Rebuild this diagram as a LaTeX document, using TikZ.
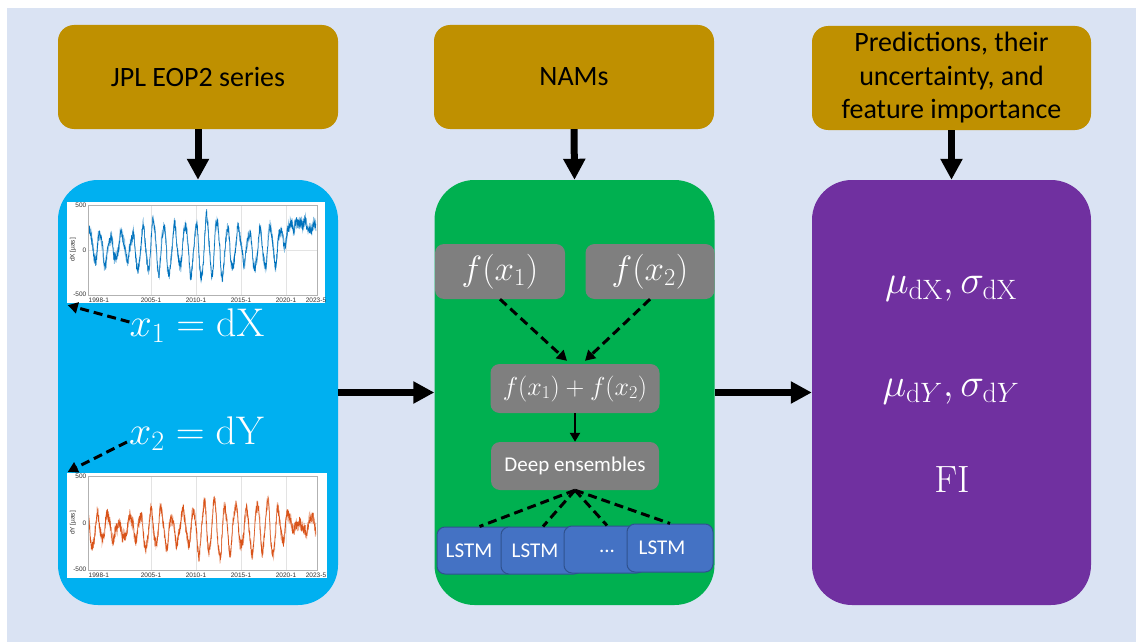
\RequirePackage{fix-cm}
\documentclass[tikz,border=0pt]{standalone}
\usepackage[no-math]{fontspec}
\setmainfont{Carlito}
\newfontfamily\plotfont{Liberation Sans}
\usetikzlibrary{arrows.meta,calc}
\definecolor{bgblue}{HTML}{DAE3F3}
\definecolor{gold}{HTML}{BF9000}
\definecolor{skyb}{HTML}{00B0F0}
\definecolor{grn}{HTML}{00B050}
\definecolor{purp}{HTML}{7030A0}
\definecolor{gry}{HTML}{7F7F7F}
\definecolor{lstmb}{HTML}{4472C4}
\definecolor{lstmd}{HTML}{2F528F}
\definecolor{dxcol}{HTML}{0072BD}
\definecolor{dycol}{HTML}{D95319}
\pgfmathsetseed{7}
\tikzset{
  topbox/.style={fill=gold, rounded corners=16pt, inner sep=0pt, align=center,
     font=\fontsize{28}{33.5}\selectfont, text=black},
  bigbox/.style={rounded corners=40pt, inner sep=0pt, minimum width=280pt, minimum height=425pt},
  bigarrow/.style={line width=7pt, -{Triangle[length=21pt,width=21pt]}},
  dasharrow/.style={line width=3pt, dash pattern=on 9pt off 5pt, -{Triangle[length=10pt,width=11pt]}},
  dashline/.style={line width=3pt, dash pattern=on 9pt off 5pt},
  graybox/.style={fill=gry, rounded corners=9pt, inner sep=0pt, text=white},
  lstmbox/.style={fill=lstmb, draw=lstmd, line width=1pt, rounded corners=8pt, inner sep=0pt},
  lstmtxt/.style={text=white, inner sep=0pt, font=\fontsize{21}{23}\selectfont},
  chartbg/.style={fill=white, inner sep=0pt},
  ticklab/.style={font=\plotfont\fontsize{6.5}{7}\selectfont, inner sep=0.5pt, text=black!80},
  gridl/.style={gray!22, line width=0.5pt},
  axframe/.style={gray!60, line width=0.5pt},
  bigmath/.style={text=white, inner sep=0pt, font=\fontsize{40}{42}\selectfont},
  purmath/.style={text=white, inner sep=0pt, font=\fontsize{40}{42}\selectfont}
}
\begin{document}
\begin{tikzpicture}[x=1pt,y=-1pt]
\useasboundingbox (0,0) rectangle (1136,642);
\fill[bgblue] (7,8) rectangle (1136,642);

% top boxes
\node[topbox, minimum width=280pt, minimum height=104pt] (jpl) at (198,77) {JPL EOP2 series};
\node[topbox, minimum width=280pt, minimum height=104pt] (nams) at (574,77) {NAMs};
\node[topbox, minimum width=279pt, minimum height=104pt] (pred) at (951.5,78) {Predictions, their\\uncertainty, and\\feature importance};

% big boxes
\node[bigbox, fill=skyb] (blue) at (198,392.5) {};
\node[bigbox, fill=grn] (green) at (574.5,392.5) {};
\node[bigbox, fill=purp, minimum width=279pt] (purple) at (951.5,392.5) {};

% arrows
\draw[bigarrow] (jpl.south) -- (blue.north);
\draw[bigarrow] (nams.south) -- (green.north);
\draw[bigarrow] (pred.south) -- (purple.north);
\draw[bigarrow] (blue.east) -- (green.west);
\draw[bigarrow] (green.east) -- (purple.west);

% chart 1 (dX)
\node[chartbg, minimum width=258pt, minimum height=101pt] (ch1) at (196,252.5) {};
\foreach \xx in {151,196,241,286} \draw[gridl] (\xx,205) -- (\xx,295);
\draw[gridl] (88,250) -- (317,250);
\begin{scope}
\clip (88,205) rectangle (317,295);
\draw[dxcol!45, line width=0.8pt] plot[domain=0:25.33, samples=900, variable=\t]
  ({88+9*\t}, {250-0.09*( 20 + 250*min(max((\t-20.9)/1.5,0),1)
   + (1-0.7*min(max((\t-20.9)/1.5,0),1))*(100+190*exp(-((\t-12)/8)*((\t-12)/8)))*sin(360*\t/1.18+30)
   + 45*sin(360*\t) + 35*sin(360*\t/3.3+40) + 25*sin(360*frac(2*\t)) + 75*rand )});
\draw[dxcol, line width=0.5pt] plot[domain=0:25.33, samples=1200, variable=\t]
  ({88+9*\t}, {250-0.09*( 20 + 250*min(max((\t-20.9)/1.5,0),1)
   + (1-0.7*min(max((\t-20.9)/1.5,0),1))*(100+190*exp(-((\t-12)/8)*((\t-12)/8)))*sin(360*\t/1.18+30)
   + 45*sin(360*\t) + 35*sin(360*\t/3.3+40) + 25*sin(360*frac(2*\t)) + 55*rand )});
\end{scope}
\draw[axframe] (88,205) rectangle (317,295);
\node[ticklab, anchor=east] at (87,205) {500};
\node[ticklab, anchor=east] at (87,250) {0};
\node[ticklab, anchor=south east] at (87,297) {-500};
\node[ticklab, rotate=90] at (73,250) {dX [µas]};
\node[ticklab, anchor=north west] at (88,297) {1998-1};
\node[ticklab, anchor=north] at (151,297) {2005-1};
\node[ticklab, anchor=north] at (196,297) {2010-1};
\node[ticklab, anchor=north] at (241,297) {2015-1};
\node[ticklab, anchor=north] at (286,297) {2020-1};
\node[ticklab, anchor=north] at (316,297) {2023-5};

% chart 2 (dY)
\node[chartbg, minimum width=260pt, minimum height=105pt] (ch2) at (197,525.5) {};
\foreach \xx in {151,196,241,286} \draw[gridl] (\xx,476) -- (\xx,570);
\draw[gridl] (88,523) -- (317,523);
\begin{scope}
\clip (88,476) rectangle (317,570);
\draw[dycol!45, line width=0.8pt] plot[domain=0:25.33, samples=900, variable=\t]
  ({88+9*\t}, {523-0.094*( -60 + 40*min(max((\t-21)/1.5,0),1)
   + (1-0.5*min(max((\t-21)/1.5,0),1))*(120+140*exp(-((\t-16)/7)*((\t-16)/7)))*sin(360*\t/1.18+120)
   + 45*sin(360*\t+90) + 35*sin(360*\t/2.9+200) + 25*sin(360*frac(2*\t)+60) + 75*rand )});
\draw[dycol, line width=0.5pt] plot[domain=0:25.33, samples=1200, variable=\t]
  ({88+9*\t}, {523-0.094*( -60 + 40*min(max((\t-21)/1.5,0),1)
   + (1-0.5*min(max((\t-21)/1.5,0),1))*(120+140*exp(-((\t-16)/7)*((\t-16)/7)))*sin(360*\t/1.18+120)
   + 45*sin(360*\t+90) + 35*sin(360*\t/2.9+200) + 25*sin(360*frac(2*\t)+60) + 55*rand )});
\end{scope}
\draw[axframe] (88,476) rectangle (317,570);
\node[ticklab, anchor=east] at (87,476) {500};
\node[ticklab, anchor=east] at (87,523) {0};
\node[ticklab, anchor=south east] at (87,572) {-500};
\node[ticklab, rotate=90] at (73,523) {dY [µas]};
\node[ticklab, anchor=north west] at (88,572) {1998-1};
\node[ticklab, anchor=north] at (151,572) {2005-1};
\node[ticklab, anchor=north] at (196,572) {2010-1};
\node[ticklab, anchor=north] at (241,572) {2015-1};
\node[ticklab, anchor=north] at (286,572) {2020-1};
\node[ticklab, anchor=north] at (316,572) {2023-5};

% x1, x2 labels
\node[bigmath] (x1) at (197,326) {$x_1=\mathrm{dX}$};
\node[bigmath] (x2) at (197,434) {$x_2=\mathrm{dY}$};
\draw[dasharrow] ($(x1.west)+(0,-4)$) -- ($(ch1.south west)+(1,2)$);
\draw[dasharrow] ($(x2.west)+(-2,8)$) -- ($(ch2.north west)+(1,-1)$);

% green box content
\node[graybox, minimum width=130pt, minimum height=55pt, font=\fontsize{35}{37}\selectfont] (f1) at (500,271.5) {$f(x_1)$};
\node[graybox, minimum width=129pt, minimum height=55pt, font=\fontsize{35}{37}\selectfont] (f2) at (650,271.5) {$f(x_2)$};
\node[graybox, minimum width=169pt, minimum height=49pt, font=\fontsize{26}{28}\selectfont] (sum) at (575,388.5) {$f(x_1)+f(x_2)$};
\node[graybox, minimum width=168pt, minimum height=48pt, font=\fontsize{21}{23}\selectfont] (deep) at (575,466) {Deep ensembles};
\draw[dasharrow] (f1.south) -- ($(sum.north)+(-8,-3)$);
\draw[dasharrow] (f2.south) -- ($(sum.north)+(10,-3)$);
\draw[line width=2.5pt, -{Triangle[length=9pt,width=10pt]}] (sum.south) -- (deep.north);

% LSTM boxes
\node[lstmbox, minimum width=79pt, minimum height=47pt] (l1) at (476.5,550.5) {};
\node[lstmtxt] (l1t) at (469,551) {LSTM};
\node[lstmbox, minimum width=81pt, minimum height=47pt] (l2) at (541.5,550.5) {};
\node[lstmtxt] (l2t) at (535,551) {LSTM};
\node[lstmbox, minimum width=81pt, minimum height=47pt] (l3) at (604.5,549.5) {};
\node[lstmtxt] (l3t) at (607,551) {...};
\node[lstmbox, minimum width=86pt, minimum height=48pt] (l4) at (670,548) {};
\node[lstmtxt] (l4t) at (662,548) {LSTM};
\draw[dashline] (deep.south) -- ($(l1.north)+(3,0)$);
\draw[dashline] (deep.south) -- ($(l2.north)+(1.5,0)$);
\draw[dashline] (deep.south) -- ($(l3.north)+(2.5,0)$);
\draw[dashline] (deep.south) -- (l4.north);

% purple box content
\node[purmath] (mux) at (951,289) {$\mu_{\mathrm{dX}},\sigma_{\mathrm{dX}}$};
\node[purmath] (muy) at (951,392) {$\mu_{\mathrm{d}Y},\sigma_{\mathrm{d}Y}$};
\node[purmath, font=\fontsize{38}{40}\selectfont] (fi) at (952,480) {$\mathrm{FI}$};
\end{tikzpicture}
\end{document}
